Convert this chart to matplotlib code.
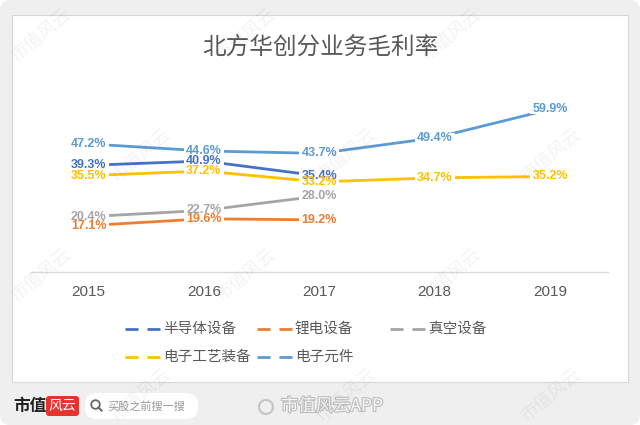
import matplotlib
matplotlib.use("Agg")
from matplotlib import pyplot as plt
from matplotlib.patches import Rectangle, FancyBboxPatch, Circle
from matplotlib.lines import Line2D
from matplotlib.transforms import IdentityTransform
import matplotlib.patheffects as pe

plt.rcParams['font.family'] = ['Noto Sans CJK SC', 'DejaVu Sans']

title = "北方华创分业务毛利率"
years = ["2015", "2016", "2017", "2018", "2019"]
series_names = ["半导体设备", "锂电设备", "真空设备", "电子工艺装备", "电子元件"]
semiconductor = [39.3, 40.9, 35.4]
lithium = [17.1, 19.6, 19.2]
vacuum = [20.4, 22.7, 28.0]
process_equip = [35.5, 37.2, 33.2, 34.7, 35.2]
components = [47.2, 44.6, 43.7, 49.4, 59.9]
colors = ['#4472C4', '#ED7D31', '#A5A5A5', '#FFC000', '#5B9BD5']
all_series = [semiconductor, lithium, vacuum, process_equip, components]

W, H = 640, 425
fig = plt.figure(figsize=(W / 100, H / 100), dpi=100)
fig.patch.set_facecolor('white')
px = IdentityTransform()  # pixel coords, origin bottom-left


def fy(y):
    return H - y


# gray card with rounded corners + white chart panel
fig.add_artist(FancyBboxPatch((0, 0), W, H, boxstyle="round,pad=0,rounding_size=10",
                              fc='#efefef', ec='none', transform=px, zorder=0))
fig.add_artist(Rectangle((12, fy(382)), 616, 382 - 15, fc='white', ec='#d6d6d6',
                         lw=0.8, transform=px, zorder=1))

# plot area
ax = fig.add_axes([30.8 / W, fy(272) / H, 577 / W, 190 / H])
ax.set_zorder(2)
ax.patch.set_alpha(0)
ax.set_xlim(-0.5, 4.5)
ax.set_ylim(0, 70)
x = list(range(len(years)))
for vals, c in zip(all_series, colors):
    ax.plot(x[:len(vals)], vals, color=c, lw=2.0, solid_capstyle='round', zorder=2)

# white boxes under the labels hide the lines, then the labels on top
lw_px, lh_px = 40, 10
for vals in all_series:
    for xi, v in zip(x, vals):
        cx, cy = ax.transData.transform((xi, v))
        ax.add_patch(Rectangle((cx - lw_px / 2, cy - lh_px / 2), lw_px, lh_px,
                               fc='white', ec='none', transform=px, zorder=3))
for vals, c in zip(all_series, colors):
    for xi, v in zip(x, vals):
        ax.text(xi, v, f"{v:.1f}%", ha='center', va='center', color=c,
                fontsize=9, fontweight='bold', family=['Liberation Sans'], zorder=4)

ax.set_yticks([])
ax.set_xticks(x)
ax.set_xticklabels(years, family=['Liberation Sans'], fontsize=11, color='#595959')
ax.tick_params(axis='x', length=0, pad=9)
for s in ['top', 'left', 'right']:
    ax.spines[s].set_visible(False)
ax.spines['bottom'].set_color('#d9d9d9')
ax.spines['bottom'].set_linewidth(1.0)

fig.text(320 / W, fy(47) / H, title, ha='center', va='center', fontsize=17, color='#595959')

# legend
legend_pos = [(125, 329), (257, 329), (390, 329), (125, 357), (257, 357)]
for (lx, ly), name, c in zip(legend_pos, series_names, colors):
    fig.add_artist(Line2D([lx, lx + 35], [fy(ly), fy(ly)], color=c, lw=2.0,
                          linestyle=(0, (4.7, 3.2)), transform=px, zorder=3))
    fig.text((lx + 38) / W, fy(ly) / H, name, ha='left', va='center',
             fontsize=10.5, color='#595959', zorder=3)

# bottom bar
fig.text(13 / W, fy(406) / H, "市值", ha='left', va='center', fontsize=12,
         fontweight='bold', color='#222222')
fig.add_artist(FancyBboxPatch((46, fy(416)), 33, 20, boxstyle="round,pad=0,rounding_size=3",
                              fc='#e8322e', ec='none', transform=px, zorder=3))
fig.text(62.5 / W, fy(406) / H, "风云", ha='center', va='center', fontsize=10,
         style='italic', color='white', zorder=4)
fig.add_artist(FancyBboxPatch((85, fy(419)), 113, 26, boxstyle="round,pad=0,rounding_size=12",
                              fc='white', ec='none', transform=px, zorder=3))
fig.add_artist(Circle((95.5, fy(404.5)), 4.3, fc='none', ec='#666666', lw=1.3,
                      transform=px, zorder=4))
fig.add_artist(Line2D([98.5, 101.5], [fy(407.5), fy(410.5)], color='#666666', lw=1.5,
                      transform=px, zorder=4))
fig.text(107 / W, fy(406) / H, "买股之前搜一搜", ha='left', va='center', fontsize=8,
         color='#999999', zorder=4)
fig.add_artist(Circle((266, fy(407)), 7, fc='none', ec='#c6c6c6', lw=1.6,
                      transform=px, zorder=4))
fig.text(281 / W, fy(406) / H, "市值风云APP", ha='left', va='center', fontsize=12.5,
         color='#f6f6f6', zorder=4,
         path_effects=[pe.withStroke(linewidth=1.6, foreground='#bdbdbd')])

# watermarks (kept inside the picture)
for row, wy in enumerate(range(35, 400, 120)):
    off = 0 if row % 2 == 0 else 100
    for wx in range(40 + off, 620, 205):
        fig.text(wx / W, fy(wy) / H, "市值风云", rotation=40, ha='center', va='center',
                 fontsize=13, color='#000000', alpha=0.05, zorder=10)

fig.savefig("out.png", dpi=100)
